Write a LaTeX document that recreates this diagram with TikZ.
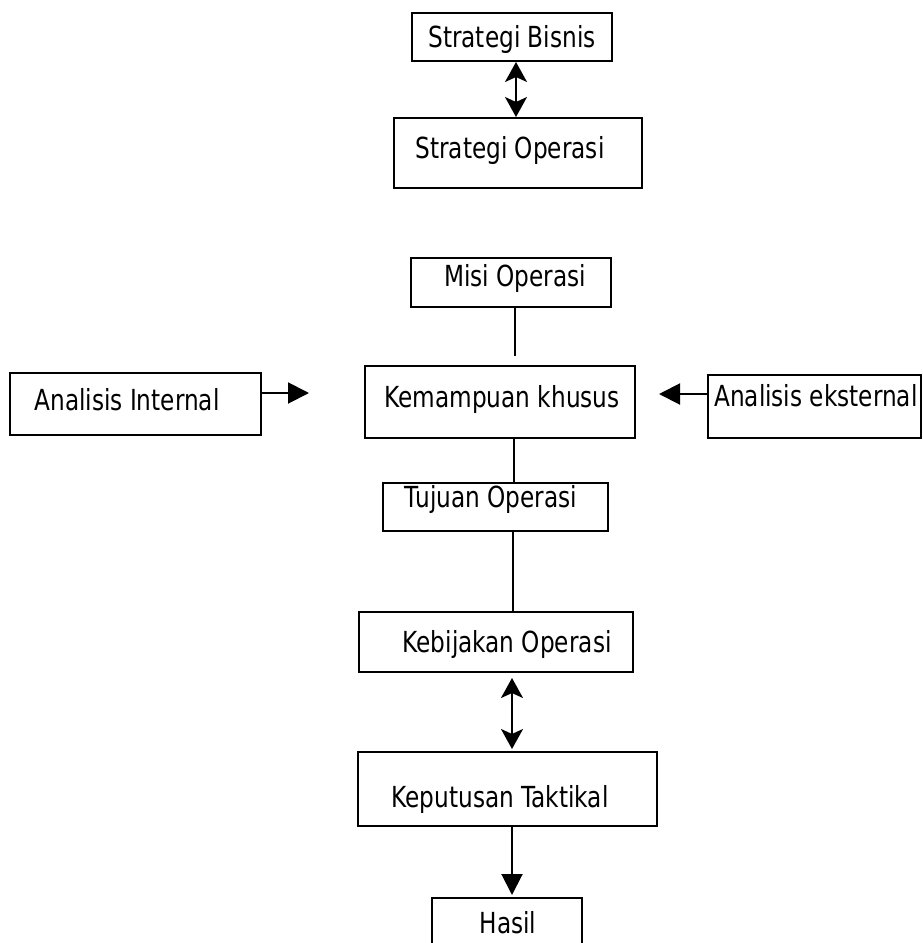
\documentclass[tikz,border=0pt]{standalone}
\usepackage{fontspec}
\setmainfont{DejaVu Sans}[FakeStretch=0.8]
\usetikzlibrary{arrows.meta}
\begin{document}
\begin{tikzpicture}[x=1pt,y=-1pt,
  box/.style={draw, line width=2pt, inner sep=0pt},
  txt/.style={inner sep=0pt, anchor=base, font=\fontsize{29}{32}\selectfont},
  link/.style={line width=2pt},
  dbl/.style={line width=2pt, {Stealth[length=20pt,width=22pt,inset=5pt]}-{Stealth[length=20pt,width=22pt,inset=5pt]}},
  one/.style={line width=2pt, -{Triangle[length=21pt,width=21pt]}}]
\useasboundingbox (0,0) rectangle (923,943);
\clip (0,0) rectangle (923,943);
% boxes
\node[box, minimum width=200pt, minimum height=48pt] (sb) at (512,37) {};
\node[box, minimum width=248pt, minimum height=70pt] (so) at (518,153) {};
\node[box, minimum width=200pt, minimum height=49pt] (mo) at (511,282.5) {};
\node[box, minimum width=270pt, minimum height=72pt] (km) at (500,402) {};
\node[box, minimum width=251pt, minimum height=62pt] (ai) at (135.5,404) {};
\node[box, minimum width=213pt, minimum height=63pt] (ae) at (814.5,406.5) {};
\node[box, minimum width=225pt, minimum height=48pt] (tj) at (495.5,507) {};
\node[box, minimum width=274pt, minimum height=60pt] (kb) at (496,642) {};
\node[box, minimum width=299pt, minimum height=74pt] (kt) at (507.5,789) {};
\node[box, minimum width=150pt, minimum height=67pt] (hs) at (507,931.5) {};
% texts
\node[txt] (sbt) at (512,47) {Strategi Bisnis};
\node[txt] (sot) at (510,158) {Strategi Operasi};
\node[txt] (mot) at (515,286) {Misi Operasi};
\node[txt] (kmt) at (502,407) {Kemampuan khusus};
\node[txt] (ait) at (127,410) {Analisis Internal};
\node[txt, anchor=base west] (aet) at (714,406) {Analisis eksternal};
\node[txt] (tjt) at (491,507) {Tujuan Operasi};
\node[txt] (kbt) at (507,652) {Kebijakan Operasi};
\node[txt] (ktt) at (500,807) {Keputusan Taktikal};
\node[txt] (hst) at (508,933) {Hasil};
% connectors
\draw[dbl] ([xshift=4pt]sb.south) -- ([xshift=-2pt]so.north);
\draw[link, shorten >=9pt] ([xshift=4pt]mo.south) -- ([xshift=15pt]km.north);
\draw[link] ([xshift=14pt]km.south) -- ([xshift=18.5pt]tj.north);
\draw[one, shorten >=55pt] ([yshift=11pt]ai.east) -- ([yshift=9pt]km.west);
\draw[one, shorten >=23pt] ([yshift=12.5pt]ae.west) -- ([yshift=8pt]km.east);
\draw[link] ([xshift=17.5pt]tj.south) -- ([xshift=17pt]kb.north);
\draw[dbl, shorten <=5pt, shorten >=2pt] ([xshift=16pt]kb.south) -- ([xshift=4.5pt]kt.north);
\draw[one, shorten >=2pt] ([xshift=4.5pt]kt.south) -- ([xshift=5pt]hs.north);
\end{tikzpicture}
\end{document}
